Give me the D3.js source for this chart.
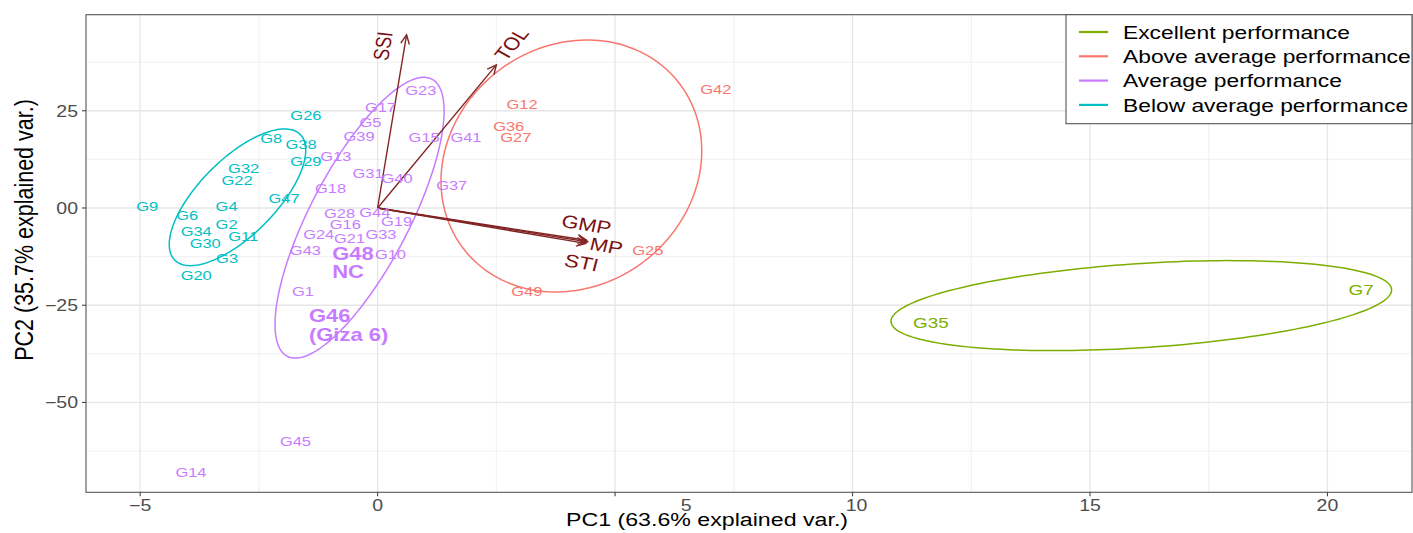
<!DOCTYPE html>
<html><head><meta charset="utf-8">
<script src="https://cdn.jsdelivr.net/npm/d3@7"></script>
<style>body{margin:0;background:#fff}svg{display:block}text{font-family:"Liberation Sans",Arial,sans-serif}</style>
</head><body>
<svg id="chart" width="1413" height="533"></svg>
<script>
// ---------------- DATA ----------------
const groups = ["Excellent performance","Above average performance","Average performance","Below average performance"];
const groupColors = ["#7CAE00","#F8766D","#C77CFF","#00BFC4"];

// genotype scores (PC1, PC2) and group index
const genoNames = ["G26","G8","G38","G29","G32","G22","G47","G9","G4","G6","G2","G34","G11","G30","G3","G20",
  "G23","G17","G5","G39","G15","G41","G13","G31","G40","G37","G18","G28","G44","G16","G19","G24","G21","G33","G43","G48\nNC","G10","G1","G46\n(Giza 6)","G45","G14",
  "G42","G12","G36","G27","G25","G49",
  "G35","G7"];
const pc1 = [-1.51,-2.24,-1.61,-1.51,-2.82,-2.96,-1.97,-4.85,-3.18,-4.01,-3.18,-3.82,-2.83,-3.63,-3.17,-3.82,
  0.91,0.06,-0.15,-0.39,0.98,1.86,-0.88,-0.20,0.41,1.56,-0.99,-0.80,-0.06,-0.68,0.40,-1.24,-0.59,0.07,-1.52,-0.52,0.27,-1.57,-0.61,-1.73,-3.93,
  7.12,3.04,2.76,2.91,5.69,3.14,
  11.65,20.71];
const pc2 = [23.9,18.0,16.3,12.0,10.2,7.1,2.6,0.5,0.4,-1.9,-4.1,-6.0,-7.3,-9.1,-13.0,-17.2,
  30.3,25.9,22.1,18.6,18.1,18.1,13.3,8.9,7.6,5.9,5.1,-1.2,-1.0,-4.1,-3.5,-6.6,-7.8,-6.6,-10.9,-14.0,-11.8,-21.4,-30.1,-59.9,-67.8,
  30.6,26.7,21.1,18.2,-10.9,-21.3,
  -29.4,-21.0];
const genoGroup = [3,3,3,3,3,3,3,3,3,3,3,3,3,3,3,3,
  2,2,2,2,2,2,2,2,2,2,2,2,2,2,2,2,2,2,2,2,2,2,2,2,2,
  1,1,1,1,1,1,
  0,0];
const boldLabels = ["G48\nNC","G46\n(Giza 6)"];

// concentration ellipses per group: centre, half-extent in PC1 and PC2, correlation
const ellCx  = [16.08, 4.08, -0.38, -2.95];
const ellCy  = [-25.1, 10.8, -2.5, 2.75];
const ellHx  = [5.27, 2.745, 1.78, 1.437];
const ellHy  = [11.57, 32.4, 36.1, 17.57];
const ellRho = [0.35, 0.12, 0.76, 0.69];

// variable loadings (arrows)
const varNames = ["SSI","TOL","GMP","MP","STI"];
const varX = [0.61, 2.50, 4.40, 4.42, 4.38];
const varY = [44.5, 36.8, -8.3, -8.7, -9.1];

const xTicks = [-5,0,5,10,15,20];
const xTickLabels = ["\u22125","0","5","10","15","20"];
const yTicks = [25,0,-25,-50];
const yTickLabels = ["25","00","\u221225","\u221250"];
const xMinor = [-2.5,2.5,7.5,12.5,17.5];
const yMinor = [37.5,12.5,-12.5,-37.5,-62.5];

// ---------------- DRAW ----------------
const SX = 1.22; // horizontal stretch of the reference picture
const svg = d3.select("#chart");
const L = 86, R = 1412, T = 14.7, B = 492.3;
const x = d3.scaleLinear().domain([-6.14, 21.78]).range([L, R]);
const y = d3.scaleLinear().domain([-73.1, 49.7]).range([B, T]);

function tr(px, py, rot) { return `translate(${px},${py}) scale(${SX},1)` + (rot ? ` rotate(${rot})` : ""); }

svg.append("rect").attr("x",0).attr("y",0).attr("width",1413).attr("height",533).attr("fill","#fff");

// grid
const grid = svg.append("g");
grid.selectAll(".vmin").data(xMinor).join("line").attr("x1",d=>x(d)).attr("x2",d=>x(d)).attr("y1",T).attr("y2",B).attr("stroke","#ececec").attr("stroke-width",0.8);
grid.selectAll(".hmin").data(yMinor).join("line").attr("y1",d=>y(d)).attr("y2",d=>y(d)).attr("x1",L).attr("x2",R).attr("stroke","#ececec").attr("stroke-width",0.8);
grid.selectAll(".vmaj").data(xTicks).join("line").attr("x1",d=>x(d)).attr("x2",d=>x(d)).attr("y1",T).attr("y2",B).attr("stroke","#e6e6e6").attr("stroke-width",1.3);
grid.selectAll(".hmaj").data(yTicks).join("line").attr("y1",d=>y(d)).attr("y2",d=>y(d)).attr("x1",L).attr("x2",R).attr("stroke","#e6e6e6").attr("stroke-width",1.3);

// ellipses
const ellLine = d3.line().x(p=>x(p[0])).y(p=>y(p[1])).curve(d3.curveLinearClosed);
groups.forEach((g,i)=>{
  const pts = d3.range(0, 2*Math.PI, Math.PI/90).map(t=>[
    ellCx[i] + ellHx[i]*Math.cos(t),
    ellCy[i] + ellHy[i]*(ellRho[i]*Math.cos(t) + Math.sqrt(1-ellRho[i]*ellRho[i])*Math.sin(t))
  ]);
  svg.append("path").attr("d", ellLine(pts)).attr("fill","none").attr("stroke", groupColors[i]).attr("stroke-width",1.5);
});

// arrows
const ax0 = x(0), ay0 = y(0);
const arrowColor = "#832424";
varNames.forEach((v,i)=>{
  const tx = x(varX[i]), ty = y(varY[i]);
  svg.append("line").attr("x1",ax0).attr("y1",ay0).attr("x2",tx).attr("y2",ty).attr("stroke",arrowColor).attr("stroke-width",1.4);
  const ang = Math.atan2(ty-ay0, tx-ax0), hl = 10, hw = 0.45;
  const p1 = [tx - hl*Math.cos(ang-hw), ty - hl*Math.sin(ang-hw)];
  const p2 = [tx - hl*Math.cos(ang+hw), ty - hl*Math.sin(ang+hw)];
  svg.append("path").attr("d",`M${p1[0]},${p1[1]}L${tx},${ty}L${p2[0]},${p2[1]}`).attr("fill","none").attr("stroke",arrowColor).attr("stroke-width",1.4);
});
// arrow labels (nudged like the reference)
const varNudge = {SSI:[-24,11], TOL:[15,-21], GMP:[0,-16], MP:[19,4], STI:[-4,19]};
varNames.forEach((v,i)=>{
  const tx = x(varX[i]), ty = y(varY[i]);
  const rot = Math.atan2(ty-ay0, (tx-ax0)/SX)*180/Math.PI;
  svg.append("text").text(v).attr("transform", tr(tx+varNudge[v][0], ty+varNudge[v][1], rot))
    .attr("text-anchor","middle").attr("dy","0.36em").attr("font-size",18).attr("fill","#7a1111");
});

// genotype labels
genoNames.forEach((n,i)=>{
  const px = x(pc1[i]), py = y(pc2[i]), col = groupColors[genoGroup[i]];
  if (boldLabels.includes(n)) {
    const lines = n.split("\n");
    const gg = svg.append("g");
    const ts = lines.map((ln,k)=> gg.append("text").text(ln).attr("x",0).attr("y",(k-(lines.length-1)/2)*18.5).attr("dy","0.36em")
      .attr("font-size",18).attr("font-weight","bold").attr("fill",col));
    const w = d3.max(ts, t=>t.node().getComputedTextLength());
    gg.attr("transform", tr(px - SX*w/2, py));
  } else {
    svg.append("text").text(n).attr("transform", tr(px, py)).attr("text-anchor","middle").attr("dy","0.36em")
      .attr("font-size", genoGroup[i]===0 ? 15.5 : 13.5).attr("fill",col);
  }
});

// panel border
svg.append("rect").attr("x",L).attr("y",T).attr("width",R-L).attr("height",B-T).attr("fill","none").attr("stroke","#555").attr("stroke-width",1.1);

// axes ticks + labels
const axisCol = "#4d4d4d";
svg.selectAll(".xt").data(xTicks).join("line").attr("x1",d=>x(d)).attr("x2",d=>x(d)).attr("y1",B).attr("y2",B+4).attr("stroke","#444").attr("stroke-width",1.1);
svg.selectAll(".yt").data(yTicks).join("line").attr("y1",d=>y(d)).attr("y2",d=>y(d)).attr("x1",L-4).attr("x2",L).attr("stroke","#444").attr("stroke-width",1.1);
const xLabNudge = {"5":71, "10":4};
xTicks.forEach((d,i)=>{
  const lab = xTickLabels[i];
  svg.append("text").text(lab).attr("transform", tr(x(d)+(xLabNudge[lab]||0), 511)).attr("text-anchor","middle")
    .attr("font-size",16).attr("fill",axisCol);
});
yTicks.forEach((d,i)=>{
  svg.append("text").text(yTickLabels[i]).attr("transform", tr(78, y(d))).attr("text-anchor","end").attr("dy","0.36em")
    .attr("font-size",16).attr("fill",axisCol);
});
svg.append("text").text("PC1 (63.6% explained var.)").attr("transform", tr(707, 526)).attr("text-anchor","middle").attr("font-size",19).attr("fill","#000");
svg.append("text").text("PC2 (35.7% explained var.)").attr("transform", tr(33, 230, -90)).attr("text-anchor","middle").attr("font-size",21.5).attr("fill","#000");

// legend
const lg = svg.append("g");
lg.append("rect").attr("x",1066).attr("y",T).attr("width",R-1066).attr("height",109).attr("fill","#fff").attr("stroke","#555").attr("stroke-width",1.1);
groups.forEach((g,i)=>{
  const cy = 32 + i*24.3;
  lg.append("line").attr("x1",1079).attr("x2",1108).attr("y1",cy).attr("y2",cy).attr("stroke",groupColors[i]).attr("stroke-width",2.2);
  lg.append("text").text(g).attr("transform", tr(1123, cy)).attr("dy","0.36em").attr("font-size",18.7).attr("fill","#000");
});
</script>
</body></html>
